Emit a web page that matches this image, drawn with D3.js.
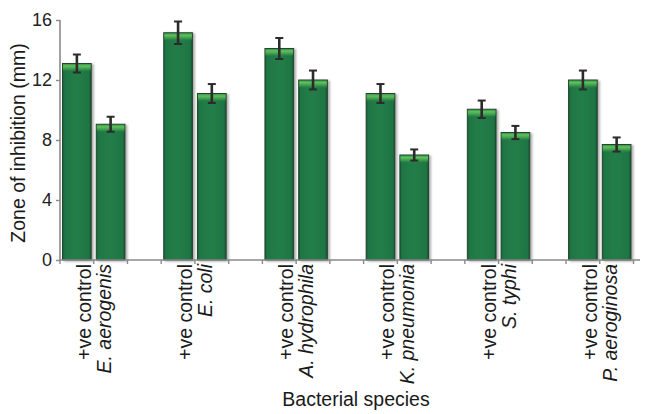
<!DOCTYPE html>
<html>
<head>
<meta charset="utf-8">
<script src="https://cdn.jsdelivr.net/npm/d3@7"></script>
<style>
  html, body { margin: 0; padding: 0; background: #ffffff; }
  svg { display: block; font-family: "Liberation Sans", Arial, Helvetica, sans-serif; }
</style>
</head>
<body>
<svg id="chart" width="652" height="414"></svg>
<script>
// Zone of inhibition per bacterial species, compared with the positive control
const species = ["E. aerogenis", "E. coli", "A. hydrophila", "K. pneumonia", "S. typhi", "P. aeroginosa"];
const controlLabel = "+ve control";
const controlValues = [13.1, 15.15, 14.1, 11.1, 10.05, 12.0];
const controlErrors = [0.6, 0.75, 0.7, 0.63, 0.58, 0.63];
const speciesValues = [9.05, 11.1, 12.0, 7.0, 8.5, 7.7];
const speciesErrors = [0.5, 0.63, 0.63, 0.37, 0.44, 0.47];
const yTicks = [0, 4, 8, 12, 16];
const yLabel = "Zone of inhibition (mm)";
const xLabel = "Bacterial species";

const svg = d3.select("#chart");
const margin = { left: 60, right: 18, top: 20, bottom: 154 };
const W = 652, H = 414;
const plotRight = W - margin.right;
const plotBottom = H - margin.bottom;

// one slot per bar, plus an empty slot between groups
const slots = [];
const bars = [];
species.forEach((s, i) => {
  slots.push(`c${i}`, `s${i}`);
  bars.push({ key: `c${i}`, value: controlValues[i], err: controlErrors[i] });
  bars.push({ key: `s${i}`, value: speciesValues[i], err: speciesErrors[i] });
  if (i < species.length - 1) slots.push(`g${i}`);
});

const slotRight = 633.5;
const x = d3.scaleBand().domain(slots).range([margin.left, slotRight]).padding(0);
const step = x.step();
const inset = step * 0.075;
const barW = step * 0.85;

const y = d3.scaleLinear().domain([0, 16]).range([plotBottom, margin.top]);

const defs = svg.append("defs");
const shadow = defs.append("filter").attr("id", "shadow")
  .attr("x", "-20%").attr("y", "-5%").attr("width", "150%").attr("height", "110%");
shadow.append("feDropShadow").attr("dx", 2).attr("dy", 1).attr("stdDeviation", 1)
  .attr("flood-color", "#6b6b6b").attr("flood-opacity", 0.55);

const sideGrad = defs.append("linearGradient").attr("id", "side")
  .attr("x1", 0).attr("x2", 1).attr("y1", 0).attr("y2", 0);
[[0, "#1a5e36"], [0.08, "#1f7744"], [0.5, "#217d47"], [0.92, "#1f7543"], [1, "#184f2e"]]
  .forEach(([o, c]) => sideGrad.append("stop").attr("offset", o).attr("stop-color", c));

const topGrad = defs.append("linearGradient").attr("id", "topShine")
  .attr("x1", 0).attr("x2", 0).attr("y1", 0).attr("y2", 1);
[[0, "#3e8f4c", 1], [0.25, "#5ec25c", 1], [0.6, "#49a552", 0.8], [1, "#217d47", 0]]
  .forEach(([o, c, op]) => topGrad.append("stop").attr("offset", o).attr("stop-color", c).attr("stop-opacity", op));

// bars
const barG = svg.append("g");
const bar = barG.selectAll("g.bar").data(bars).join("g").attr("class", "bar");
bar.append("rect")
  .attr("x", d => x(d.key) + inset)
  .attr("y", d => y(d.value))
  .attr("width", barW)
  .attr("height", d => y(0) - y(d.value))
  .attr("fill", "url(#side)")
  .attr("stroke", "#23452d")
  .attr("stroke-width", 1)
  .attr("filter", "url(#shadow)");
bar.append("rect")
  .attr("x", d => x(d.key) + inset + 0.5)
  .attr("y", d => y(d.value) + 0.5)
  .attr("width", barW - 1)
  .attr("height", 8)
  .attr("fill", "url(#topShine)");

// error bars
const errG = svg.append("g").attr("stroke", "#2b2b2b");
bars.forEach(d => {
  const cx = x(d.key) + inset + barW / 2;
  const y1 = y(d.value + d.err), y2 = y(d.value - d.err);
  errG.append("line").attr("x1", cx).attr("x2", cx).attr("y1", y1).attr("y2", y2).attr("stroke-width", 2.6);
  errG.append("line").attr("x1", cx - 4).attr("x2", cx + 4).attr("y1", y1).attr("y2", y1).attr("stroke-width", 2);
  errG.append("line").attr("x1", cx - 4).attr("x2", cx + 4).attr("y1", y2).attr("y2", y2).attr("stroke-width", 2);
});

// y axis
const yAxis = svg.append("g")
  .attr("transform", `translate(${margin.left},0)`)
  .call(d3.axisLeft(y).tickValues(yTicks).tickSize(4).tickPadding(4).tickFormat(d3.format("d")));
yAxis.select(".domain").attr("stroke", "#8a8a8a").attr("stroke-width", 1.6)
  .attr("d", `M0,${margin.top}V${plotBottom}`);
yAxis.selectAll(".tick line").attr("stroke", "#8a8a8a").attr("stroke-width", 1.4);
yAxis.selectAll(".tick text").attr("font-size", 18).attr("fill", "#222")
  .attr("font-family", "'Liberation Sans', Arial, sans-serif");

// x axis line with ticks at every slot boundary
const xAxisG = svg.append("g");
xAxisG.append("line")
  .attr("x1", margin.left).attr("x2", 640)
  .attr("y1", plotBottom).attr("y2", plotBottom)
  .attr("stroke", "#8a8a8a").attr("stroke-width", 1.6);
const boundaries = slots.map(s => x(s)).concat([x.range()[1]]);
xAxisG.selectAll("line.tick").data(boundaries).join("line").attr("class", "tick")
  .attr("x1", d => d).attr("x2", d => d)
  .attr("y1", plotBottom).attr("y2", plotBottom + 4)
  .attr("stroke", "#8a8a8a").attr("stroke-width", 1.4);

// category labels: two rotated lines centred on each pair
const labG = svg.append("g").attr("font-size", 19.5).attr("fill", "#1a1a1a");
species.forEach((s, i) => {
  const cx = x(`s${i}`);
  const g = labG.append("g").attr("transform", `translate(${cx},${plotBottom + 4}) rotate(-90)`);
  g.append("text").attr("text-anchor", "end").attr("x", 0).attr("y", -3).text(controlLabel);
  g.append("text").attr("text-anchor", "end").attr("x", 0).attr("y", 17)
    .attr("font-style", "italic").text(s);
});

// axis titles
svg.append("text")
  .attr("transform", `translate(25,${(margin.top + plotBottom) / 2 + 3}) rotate(-90)`)
  .attr("text-anchor", "middle").attr("font-size", 19.5).attr("fill", "#1a1a1a")
  .text(yLabel);
svg.append("text")
  .attr("x", 356).attr("y", 406)
  .attr("text-anchor", "middle").attr("font-size", 19.5).attr("fill", "#1a1a1a")
  .text(xLabel);
</script>
</body>
</html>
